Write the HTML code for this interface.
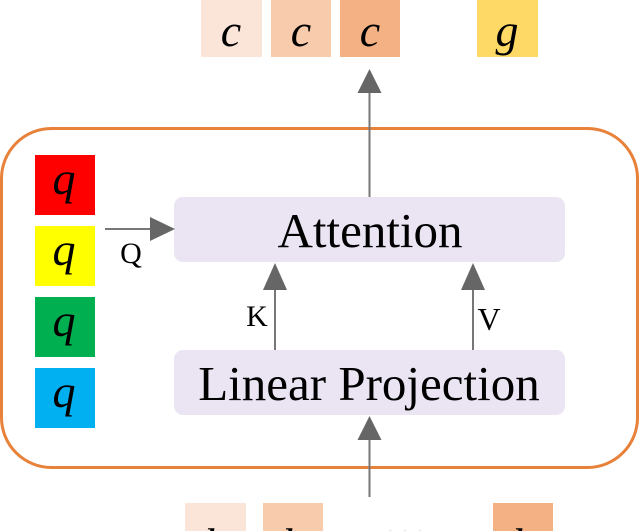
<!DOCTYPE html>
<html><head><style>
html,body{margin:0;padding:0;background:#fff;width:640px;height:531px;overflow:hidden;}
svg{display:block;}
text{font-family:"Liberation Serif",serif;fill:#000;}
</style></head><body>
<svg width="640" height="531" viewBox="0 0 640 531" xmlns="http://www.w3.org/2000/svg" overflow="hidden">
<rect x="201" y="0" width="61" height="57" fill="#FBE5D8"/>
<rect x="271" y="0" width="60" height="57" fill="#F8CBAD"/>
<rect x="340" y="0" width="60" height="57" fill="#F4B183"/>
<rect x="477" y="0" width="61" height="57" fill="#FFD966"/>
<g font-style="italic" font-size="46" text-anchor="middle">
<text x="231" y="46">c</text><text x="301" y="46">c</text><text x="370" y="46">c</text><text x="507" y="46">g</text>
</g>
<rect x="1.5" y="128.5" width="636" height="339" rx="50" fill="none" stroke="#E8813A" stroke-width="3"/>
<rect x="35" y="155" width="60" height="60" fill="#FF0000"/>
<rect x="35" y="226" width="60" height="60" fill="#FFFF00"/>
<rect x="35" y="297" width="60" height="60" fill="#00B050"/>
<rect x="35" y="368" width="60" height="60" fill="#00B0F0"/>
<g font-style="italic" font-size="46" text-anchor="middle">
<text x="64" y="194">q</text><text x="64" y="265">q</text><text x="64" y="336">q</text><text x="64" y="407">q</text>
</g>
<rect x="174" y="197" width="391" height="65" rx="9" fill="#EAE4F3"/>
<rect x="174" y="350" width="391" height="65" rx="9" fill="#EAE4F3"/>
<text x="370" y="247" font-size="49" text-anchor="middle">Attention</text>
<text x="369" y="400" font-size="49" text-anchor="middle">Linear Projection</text>
<g stroke="#777" stroke-width="2">
<line x1="105" y1="229" x2="152" y2="229"/>
<line x1="275" y1="350" x2="275" y2="288"/>
<line x1="473" y1="350" x2="473" y2="288"/>
<line x1="369.5" y1="197" x2="369.5" y2="92"/>
<line x1="369.5" y1="497" x2="369.5" y2="438"/>
</g>
<g fill="#666">
<polygon points="175,229 150,217 150,241"/>
<polygon points="275,263 263,290 287,290"/>
<polygon points="473,263 461,290 485,290"/>
<polygon points="369.5,69 357.5,93 381.5,93"/>
<polygon points="369.5,416 357.5,440 381.5,440"/>
</g>
<text x="131" y="263" font-size="30" text-anchor="middle">Q</text>
<text x="257" y="326" font-size="30" text-anchor="middle">K</text>
<text x="489" y="330" font-size="32" text-anchor="middle">V</text>
<rect x="185" y="503" width="61" height="28" fill="#FBE5D8"/>
<rect x="263" y="503" width="60" height="28" fill="#F8CBAD"/>
<rect x="493" y="503" width="60" height="28" fill="#F4B183"/>
<g font-style="italic" font-size="46" text-anchor="middle">
<text x="215" y="560">h</text><text x="293" y="560">h</text><text x="523" y="560">h</text>
</g>
<text x="405" y="548" font-size="44" text-anchor="middle">···</text>
</svg>
</body></html>
